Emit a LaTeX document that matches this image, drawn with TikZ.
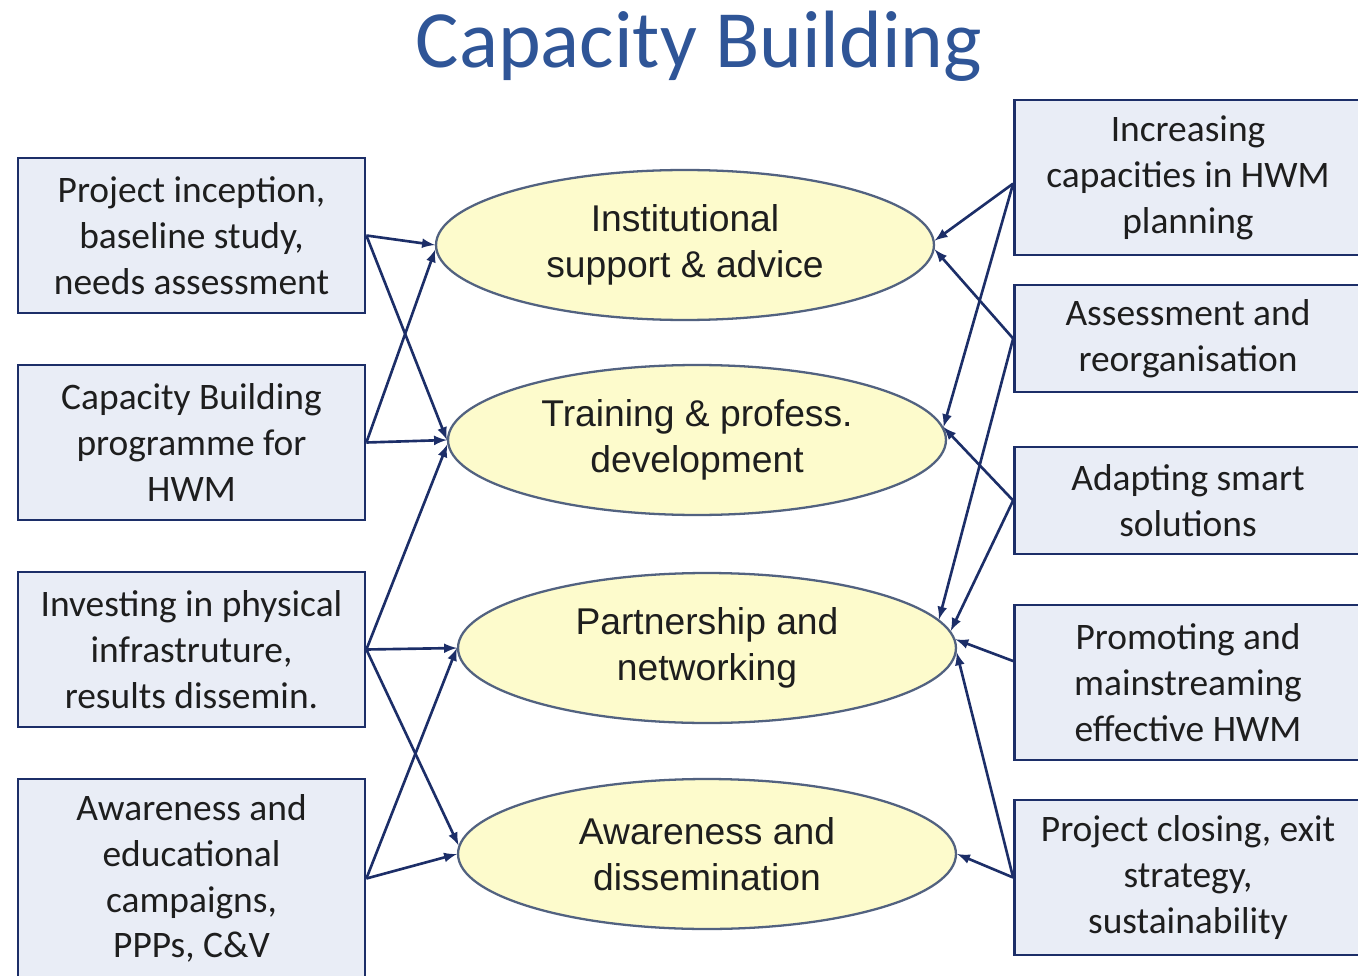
\documentclass[tikz,border=0pt]{standalone}
\usepackage{fontspec}
\setmainfont{Carlito}
\newfontfamily\arialfont{Liberation Sans}
\usepackage{xcolor}
\usepackage{tikz}
\usetikzlibrary{shapes.geometric}
\usetikzlibrary{arrows}
\definecolor{navy}{RGB}{28,46,104}
\definecolor{titleblue}{RGB}{47,85,151}
\definecolor{boxfill}{RGB}{233,237,246}
\definecolor{goalfill}{RGB}{253,251,204}
\definecolor{rimgray}{RGB}{82,98,128}
\definecolor{txt}{RGB}{30,30,30}

\begin{document}
\begin{tikzpicture}[x=0.02cm,y=-0.02cm,
	box/.style={draw=navy,line width=1.6pt,fill=boxfill,minimum width=6.94cm,minimum height=3.1cm,inner sep=0pt,align=center,text=txt,font=\fontsize{21.3}{26.1}\selectfont},
	goal/.style={ellipse,draw=rimgray,line width=1.3pt,fill=goalfill,minimum width=9.96cm,minimum height=3cm,inner sep=0pt,align=center,text=txt,font=\arialfont\fontsize{21.2}{26.1}\selectfont},
	link/.style={draw=navy,line width=1.5pt,-latex}]
	\clip (0,0) rectangle (1358,976);
	\node[anchor=base,text=titleblue,font=\fontsize{46.3}{55}\selectfont] (title) at (699,68) {Capacity Building};
	\node[box] (L1) at (191.5,235.5) {Project inception,\\baseline study,\\needs assessment};
	\node[box] (L2) at (191.5,442.5) {Capacity Building\\programme for\\HWM};
	\node[box] (L3) at (191.5,649.5) {Investing in physical\\infrastruture,\\results dissemin.};
	\node[box,minimum height=3.98cm] (L4) at (191.5,878.5) {Awareness and\\educational\\campaigns,\\PPPs, C\&V};
	\node[box] (R1) at (1188,177.5) {Increasing\\capacities in HWM\\planning};
	\node[box,minimum height=2.14cm] (R2) at (1188,338.5) {Assessment and\\reorganisation};
	\node[box,minimum height=2.14cm] (R3) at (1188,500.5) {Adapting smart\\solutions};
	\node[box] (R4) at (1188,682.5) {Promoting and\\mainstreaming\\effective HWM};
	\node[box] (R5) at (1188,877.5) {Project closing, exit\\strategy,\\sustainability};
	\node[goal] (E1) at (685,245) {Institutional\\support \& advice};
	\node[goal] (E2) at (697,440) {Training \& profess.\\development};
	\node[goal] (E3) at (707,648) {Partnership and\\networking};
	\node[goal] (E4) at (707,854) {Awareness and\\dissemination};
	\foreach \a/\b/\t in {L1/E1/180, L1/E2/180, L2/E1/181, L2/E2/180, L3/E2/181, L3/E3/180, L3/E4/178, L4/E3/180, L4/E4/180}
		\draw[link] (\a.east) -- (\b.\t);
	\foreach \a/\s/\b/\t in {R1/182/E1/1, R1/182/E2/3, R2/180/E1/359, R2/180/E3/7, R3/180/E2/3, R3/180/E3/4, R4/173/E3/2, R5/180/E3/359, R5/180/E4/0}
		\draw[link] (\a.\s) -- (\b.\t);
\end{tikzpicture}
\end{document}
